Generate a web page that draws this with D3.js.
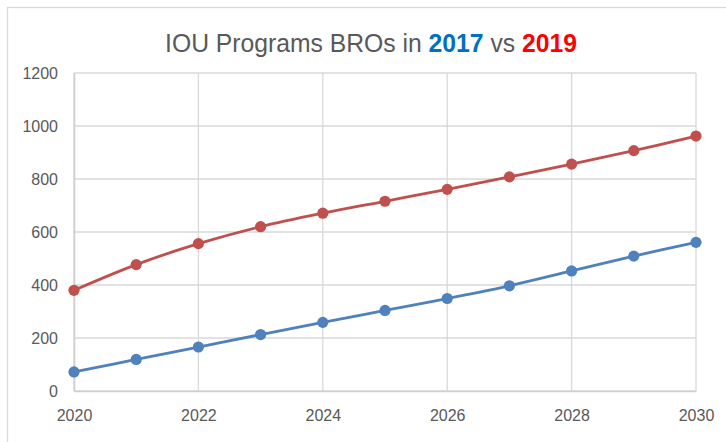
<!DOCTYPE html>
<html>
<head>
<meta charset="utf-8">
<script src="https://cdn.jsdelivr.net/npm/d3@7"></script>
<style>
  body { margin: 0; background: #fff; }
  svg { display: block; font-family: "Liberation Sans", Arial, sans-serif; }
</style>
</head>
<body>
<svg></svg>
<script>
const width = 726;
const height = 442;

const years = [2020, 2021, 2022, 2023, 2024, 2025, 2026, 2027, 2028, 2029, 2030];
const bros2017 = [72, 119, 166, 213, 259, 304, 349, 397, 453, 509, 561];
const bros2019 = [380, 477, 556, 620, 671, 716, 761, 808, 856, 907, 962];
const yTicks = [0, 200, 400, 600, 800, 1000, 1200];
const xTicks = [2020, 2022, 2024, 2026, 2028, 2030];

const series = [
  { name: "2017", values: bros2017, color: "#4f81bd" },
  { name: "2019", values: bros2019, color: "#c0504d" }
];

const margin = { top: 73, right: 32, bottom: 51, left: 74 };

const svg = d3.select("svg")
  .attr("width", width)
  .attr("height", height);

// chart area border (cut off at right and bottom)
svg.append("rect")
  .attr("x", 7.5).attr("y", 7.5)
  .attr("width", 760).attr("height", 480)
  .attr("fill", "none")
  .attr("stroke", "#d9d9d9")
  .attr("stroke-width", 1.3);

const x = d3.scaleLinear()
  .domain([2020, 2030])
  .range([margin.left, width - margin.right + 2]);

const y = d3.scaleLinear()
  .domain([0, 1200])
  .range([height - margin.bottom, margin.top]);

// grid
const grid = svg.append("g").attr("stroke", "#d9d9d9").attr("stroke-width", 1.3);
grid.selectAll("line.h")
  .data(yTicks)
  .join("line")
  .attr("class", "h")
  .attr("x1", x(2020)).attr("x2", x(2030))
  .attr("y1", d => y(d)).attr("y2", d => y(d));
grid.selectAll("line.v")
  .data(xTicks)
  .join("line")
  .attr("class", "v")
  .attr("x1", d => x(d)).attr("x2", d => x(d))
  .attr("y1", y(0)).attr("y2", y(1200));

// axes
const xAxis = svg.append("g")
  .attr("transform", `translate(0,${y(0)})`)
  .call(d3.axisBottom(x).tickValues(xTicks).tickFormat(d3.format("d")).tickSize(0).tickPadding(19));
const yAxis = svg.append("g")
  .attr("transform", `translate(${x(2020)},0)`)
  .call(d3.axisLeft(y).tickValues(yTicks).tickFormat(d3.format("d")).tickSize(0).tickPadding(16));

[xAxis, yAxis].forEach(a => {
  a.select(".domain").attr("stroke", "#d0d0d0").attr("stroke-width", 1.6);
  a.selectAll("text")
    .attr("fill", "#595959")
    .attr("font-size", 16)
    .attr("font-family", "Liberation Sans, Arial, sans-serif");
});

// lines
const line = d3.line()
  .x((d, i) => x(years[i]))
  .y(d => y(d))
  .curve(d3.curveCatmullRom);

const g = svg.append("g");
series.forEach(s => {
  g.append("path")
    .attr("d", line(s.values))
    .attr("fill", "none")
    .attr("stroke", s.color)
    .attr("stroke-width", 2.8)
    .attr("stroke-linecap", "round");
  g.selectAll(null)
    .data(s.values)
    .join("circle")
    .attr("cx", (d, i) => x(years[i]))
    .attr("cy", d => y(d))
    .attr("r", 5.6)
    .attr("fill", s.color);
});

// title
const title = svg.append("text")
  .attr("text-anchor", "middle")
  .attr("font-size", 25.5)
  .attr("fill", "#595959");
title.append("tspan").text("IOU Programs BROs in ");
title.append("tspan").text("2017").attr("font-weight", "bold").attr("fill", "#0070c0");
title.append("tspan").text(" vs ");
title.append("tspan").text("2019").attr("font-weight", "bold").attr("fill", "#ff0000");

const titleWidth = 412;
const len = title.node().getComputedTextLength();
title.attr("transform", `translate(371,52) scale(${titleWidth / len},1)`);
</script>
</body>
</html>
